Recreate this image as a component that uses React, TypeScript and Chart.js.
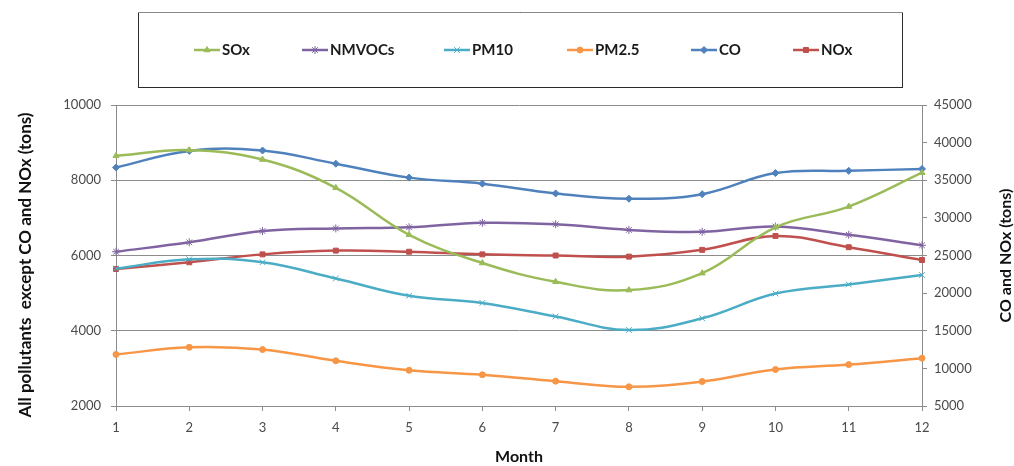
import { useEffect, useRef } from "react";
import { Chart, registerables } from "chart.js";
import { drawPoint } from "chart.js/helpers";

Chart.register(...registerables);

// ---- data ----
const months = ["1", "2", "3", "4", "5", "6", "7", "8", "9", "10", "11", "12"];
const sox = [8650, 8800, 8550, 7800, 6550, 5800, 5300, 5080, 5530, 6750, 7300, 8200];
const nmvocs = [6100, 6350, 6650, 6720, 6750, 6870, 6830, 6680, 6630, 6770, 6550, 6270];
const pm10 = [5650, 5900, 5820, 5390, 4930, 4740, 4380, 4020, 4330, 4990, 5230, 5480];
const pm25 = [3370, 3560, 3500, 3200, 2950, 2830, 2660, 2510, 2650, 2970, 3100, 3270];
const co = [36700, 38900, 38950, 37200, 35350, 34550, 33250, 32550, 33150, 35950, 36250, 36500];
const nox = [23200, 24100, 25150, 25650, 25500, 25150, 25000, 24850, 25750, 27600, 26100, 24400];

const seriesNames = ["SOx", "NMVOCs", "PM10", "PM2.5", "CO", "NOx"];
const leftTitle = "All pollutants  except CO and NOx (tons)";
const rightTitle = "CO and NOx (tons)";
const xTitle = "Month";

// ---- styles / layout ----
const colors = ["#9BBB59", "#8064A2", "#4BACC6", "#F79646", "#4F81BD", "#C0504D"];
const markers = ["triangle", "star", "crossRot", "circle", "rectRot", "rect"];
const markerRadius = [3.5, 4, 4, 3, 3.5, 3.5];
const legendX = [194, 302, 444, 567, 691, 793];
const FONT = "Lato, 'Open Sans', sans-serif";
const GRID = "#8c8c8c";

const overlayPlugin = {
  id: "overlay",
  afterDraw(chart: any) {
    const ctx = chart.ctx as CanvasRenderingContext2D;
    const area = chart.chartArea;
    ctx.save();
    // legend box
    ctx.lineWidth = 1;
    ctx.strokeStyle = "#2b2b2b";
    ctx.strokeRect(138.5, 12.5, 764, 75);
    ctx.strokeStyle = "#8a8a8a";
    ctx.beginPath();
    ctx.moveTo(138, 12.5);
    ctx.lineTo(903, 12.5);
    ctx.stroke();

    const ly = 50;
    chart.data.datasets.forEach((ds: any, i: number) => {
      const x = legendX[i];
      ctx.strokeStyle = ds.borderColor;
      ctx.lineWidth = 2.5;
      ctx.beginPath();
      ctx.moveTo(x, ly);
      ctx.lineTo(x + 26, ly);
      ctx.stroke();
      ctx.fillStyle = ds.borderColor;
      ctx.strokeStyle = ds.borderColor;
      ctx.lineWidth = 1;
      drawPoint(ctx, { pointStyle: ds.pointStyle, radius: ds.pointRadius, borderWidth: 1, rotation: 0 }, x + 13, ly);
      ctx.fillStyle = "#1a1a1a";
      ctx.font = `bold 15px ${FONT}`;
      ctx.textAlign = "left";
      ctx.textBaseline = "middle";
      ctx.fillText(ds.label, x + 28, ly);
    });

    // axis titles
    ctx.fillStyle = "#111";
    ctx.textAlign = "center";
    ctx.textBaseline = "middle";
    ctx.save();
    ctx.font = `bold 17px ${FONT}`;
    ctx.translate(26, 265);
    ctx.rotate(-Math.PI / 2);
    ctx.fillText(leftTitle, 0, 0);
    ctx.restore();
    ctx.font = `bold 16px ${FONT}`;
    ctx.save();
    ctx.translate(1006, (area.top + area.bottom) / 2);
    ctx.rotate(-Math.PI / 2);
    ctx.fillText(rightTitle, 0, 0);
    ctx.restore();
    ctx.fillText(xTitle, (area.left + area.right) / 2, 457);
    ctx.restore();
  },
};

export default function App() {
  const ref = useRef<HTMLCanvasElement | null>(null);

  useEffect(() => {
    if (!ref.current) return;
    const values = [sox, nmvocs, pm10, pm25, co, nox];
    const axes = ["y", "y", "y", "y", "y1", "y1"];
    const datasets = values.map((data, i) => ({
      label: seriesNames[i],
      data,
      yAxisID: axes[i],
      borderColor: colors[i],
      backgroundColor: colors[i],
      pointBackgroundColor: colors[i],
      pointBorderColor: colors[i],
      pointStyle: markers[i],
      pointRadius: markerRadius[i],
      pointBorderWidth: 1,
      borderWidth: 2.5,
      tension: 0.4,
      fill: false,
    }));
    const tickFont = { family: FONT, size: 13 };
    const plain = (v: any) => String(v);
    const chart = new Chart(ref.current, {
      type: "line",
      data: { labels: months, datasets },
      plugins: [overlayPlugin],
      options: {
        animation: false,
        responsive: false,
        devicePixelRatio: 1,
        layout: { padding: { top: 105, left: 0, right: 0, bottom: 0 } },
        plugins: { legend: { display: false }, tooltip: { enabled: false } },
        scales: {
          x: {
            type: "category",
            offset: false,
            grid: { drawOnChartArea: false, drawTicks: true, tickLength: 5, color: GRID },
            border: { color: GRID },
            ticks: { font: tickFont, color: "#4a4a4a", padding: 9, maxRotation: 0 },
            afterFit: (s: any) => { s.height = 60; },
          },
          y: {
            position: "left",
            min: 2000,
            max: 10000,
            ticks: { stepSize: 2000, font: tickFont, color: "#4a4a4a", padding: 10, callback: plain },
            grid: { color: GRID, tickLength: 5 },
            border: { color: GRID },
            afterFit: (s: any) => { s.width = 116; },
          },
          y1: {
            position: "right",
            min: 5000,
            max: 45000,
            ticks: { stepSize: 5000, font: tickFont, color: "#4a4a4a", padding: 7, callback: plain },
            grid: { drawOnChartArea: false, color: GRID, tickLength: 5 },
            border: { color: GRID },
            afterFit: (s: any) => { s.width = 92; },
          },
        },
      },
    } as any);
    return () => chart.destroy();
  }, []);

  return (
    <div style={{ position: "absolute", left: 0, top: 0, width: 1014, height: 466, background: "#fff" }}>
      <canvas ref={ref} width={1014} height={466} />
    </div>
  );
}
